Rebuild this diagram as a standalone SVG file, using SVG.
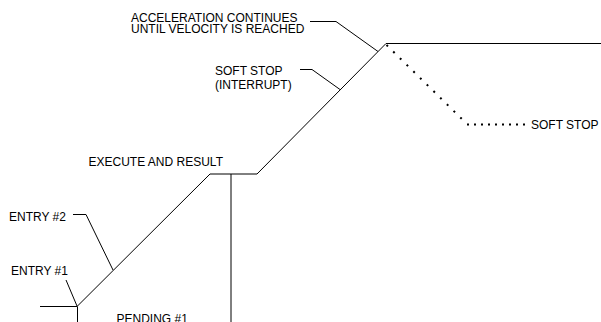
<svg xmlns="http://www.w3.org/2000/svg" width="601" height="322" viewBox="0 0 601 322">
<style>
text{font-family:"Liberation Sans",Arial,sans-serif;font-size:12px;fill:#000}
.ln{fill:none;stroke:#000;stroke-width:1}
.dot{fill:none;stroke:#000;stroke-width:2}
</style>
<rect width="601" height="322" fill="#fff"/>
<g id="connectors">
<path class="ln" d="M40,306.5 H77 L210,174 H257 L386,43.5 H601"/>
<path class="ln" d="M231,174 V322"/>
<path class="ln" d="M77.5,306.5 V322"/>
<path class="dot" stroke-dasharray="2 7.4" d="M386.5,45 L467,124"/>
<path class="dot" stroke-dasharray="2 5" d="M467,124.5 H527"/>
<path class="ln" d="M310,21.5 H336 L378,51.5"/>
<path class="ln" d="M300,69.5 H312 L340,89.5"/>
<path class="ln" d="M73,214.5 H86 L113,270"/>
<path class="ln" d="M66,280 L77,306"/>
</g>
<g id="label-accel"><text x="131" y="21.5">ACCELERATION CONTINUES</text><text x="131" y="33.3">UNTIL VELOCITY IS REACHED</text></g>
<g id="label-softstop-int"><text x="215" y="75">SOFT STOP</text><text x="215" y="88.5">(INTERRUPT)</text></g>
<g id="label-execute"><text x="88.5" y="165.5">EXECUTE AND RESULT</text></g>
<g id="label-entry2"><text x="9" y="221">ENTRY #2</text></g>
<g id="label-entry1"><text x="11" y="275">ENTRY #1</text></g>
<g id="label-pending"><text x="116.5" y="322.5">PENDING #1</text></g>
<g id="label-softstop"><text x="531" y="129">SOFT STOP</text></g>
</svg>
